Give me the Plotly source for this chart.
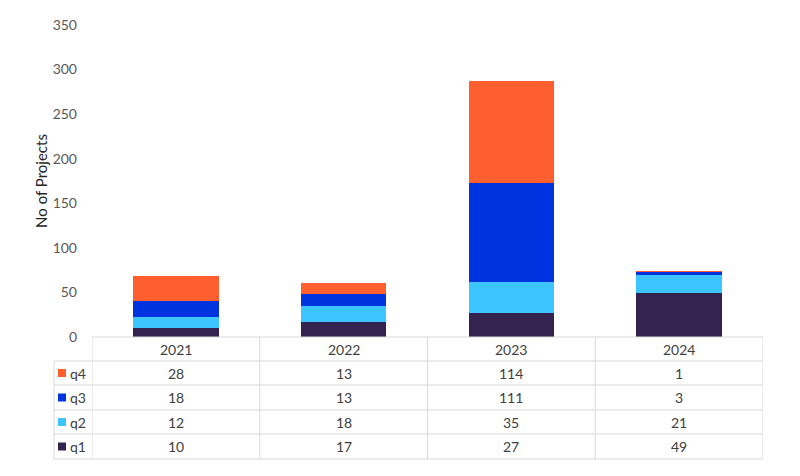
import plotly.graph_objects as go

years = ["2021", "2022", "2023", "2024"]
q1 = [10, 17, 27, 49]
q2 = [12, 18, 35, 21]
q3 = [18, 13, 111, 3]
q4 = [28, 13, 114, 1]
series_names = ["q1", "q2", "q3", "q4"]
series_vals = [q1, q2, q3, q4]
colors = ["#35234F", "#3DC5FF", "#0033E0", "#FF5F2E"]
y_ticks = [0, 50, 100, 150, 200, 250, 300, 350]

W, H = 800, 476
L, R, T, B = 92, 763, 25, 337
pw, ph = R - L, B - T
FONT = "Lato, 'Open Sans', sans-serif"
TXT = "#595959"
CELL = "#404040"
GRID = "#d9d9d9"

def px_x(x):
    return (x - L) / pw

def px_y(y):
    return (B - y) / ph

fig = go.Figure()
for name, vals, c in zip(series_names, series_vals, colors):
    fig.add_trace(go.Bar(x=years, y=vals, name=name, marker=dict(color=c, line=dict(width=0)),
                         width=0.51, showlegend=False, hoverinfo="x+y+name"))

shapes = []
annotations = []
row_lines = [337, 361, 385, 410, 434, 459]
shapes.append(dict(type="line", xref="paper", yref="paper", x0=0, x1=1, y0=px_y(337), y1=px_y(337),
                   line=dict(color=GRID, width=1)))
for ry in row_lines[1:]:
    shapes.append(dict(type="line", xref="paper", yref="paper", x0=px_x(54), x1=1, y0=px_y(ry), y1=px_y(ry),
                       line=dict(color=GRID, width=1)))
shapes.append(dict(type="line", xref="paper", yref="paper", x0=px_x(54), x1=px_x(54), y0=px_y(361), y1=px_y(459),
                   line=dict(color=GRID, width=1)))
for i in range(len(years) + 1):
    shapes.append(dict(type="line", xref="x", yref="paper", x0=i - 0.5, x1=i - 0.5, y0=px_y(337), y1=px_y(459),
                       line=dict(color=GRID, width=1)))

for i, yr in enumerate(years):
    annotations.append(dict(x=i, y=px_y(349), xref="x", yref="paper", text=yr, showarrow=False,
                            font=dict(size=14, color=CELL, family=FONT), xanchor="center", yanchor="middle"))
order = [3, 2, 1, 0]
for r, si in enumerate(order):
    top = row_lines[r + 1]
    bot = row_lines[r + 2]
    cy = (top + bot) / 2
    shapes.append(dict(type="rect", xref="paper", yref="paper", x0=px_x(58), x1=px_x(66),
                       y0=px_y(cy + 4), y1=px_y(cy - 4), fillcolor=colors[si], line=dict(width=0)))
    annotations.append(dict(x=px_x(68), y=px_y(cy), xref="paper", yref="paper", text=series_names[si],
                            showarrow=False, font=dict(size=14, color=CELL, family=FONT),
                            xanchor="left", yanchor="middle"))
    for i, v in enumerate(series_vals[si]):
        annotations.append(dict(x=i, y=px_y(cy), xref="x", yref="paper", text=str(v), showarrow=False,
                                font=dict(size=14, color=CELL, family=FONT), xanchor="center", yanchor="middle"))

fig.update_layout(
    width=W, height=H,
    barmode="stack",
    margin=dict(l=L, r=W - R, t=T, b=H - B, pad=0),
    paper_bgcolor="white", plot_bgcolor="white",
    font=dict(family=FONT, color=TXT, size=14),
    xaxis=dict(type="category", showticklabels=False, showgrid=False, zeroline=False, showline=False, ticks="",
               range=[-0.5, 3.5]),
    yaxis=dict(range=[0, 350], tickvals=y_ticks, showgrid=False, zeroline=False, showline=False,
               ticks="", ticklabelstandoff=14, tickfont=dict(size=14, color=TXT, family=FONT),
               title=dict(text="No of Projects", font=dict(size=15, color="#262626", family=FONT), standoff=1)),
    shapes=shapes,
    annotations=annotations,
)

fig.write_html("out.html", config={"displayModeBar": False},
               post_script="document.body.style.margin='0';")
